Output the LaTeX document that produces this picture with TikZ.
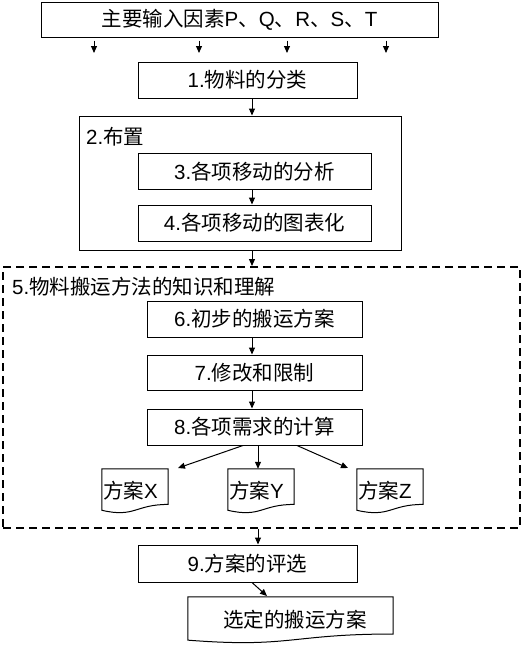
\documentclass[tikz,border=0pt]{standalone}
\usepackage{fontspec}
\setmainfont{Liberation Sans}
\newfontfamily\cjk{Noto Sans CJK SC}
\usetikzlibrary{arrows.meta,calc}
\begin{document}
\begin{tikzpicture}[x=1pt,y=-1pt]
\tikzstyle{every node}+=[inner sep=0pt,font=\fontsize{20.5}{24}\selectfont]
\tikzstyle{box}=[draw,line width=1pt,minimum height=36pt]
\tikzstyle{doc}=[minimum width=66pt,minimum height=44pt]
\tikzstyle{arr}=[line width=1pt,-{Triangle[length=7pt,width=6pt]}]
\useasboundingbox (0,0) rectangle (522,648);
\node [box,minimum width=397pt,minimum height=35pt] (inp) at (239.5,19.5) {{\cjk 主要输入因素}P{\cjk 、}Q{\cjk 、}R{\cjk 、}S{\cjk 、}T};
\node [box,minimum width=219pt] (cls) at (247.5,80) {1.{\cjk 物料的分类}};
\node [box,minimum width=322pt,minimum height=134pt] (lay) at (240,183) {};
\node [anchor=west] (layl) at (86,137) {2.{\cjk 布置}};
\node [box,minimum width=233pt] (ana) at (254.5,171.5) {3.{\cjk 各项移动的分析}};
\node [box,minimum width=233pt] (chart) at (254.5,223) {4.{\cjk 各项移动的图表化}};
\node [draw,line width=2pt,dash pattern=on 8pt off 5pt,minimum width=517pt,minimum height=261pt] (know) at (261.5,397.5) {};
\node [anchor=west] (knowl) at (12,287) {5.{\cjk 物料搬运方法的知识和理解}};
\node [box,minimum width=215pt] (init) at (254.5,319) {6.{\cjk 初步的搬运方案}};
\node [box,minimum width=215pt,minimum height=35pt] (mod) at (254.5,372.5) {7.{\cjk 修改和限制}};
\node [box,minimum width=215pt] (calc) at (254.5,427) {8.{\cjk 各项需求的计算}};
\node [doc,text width=64pt,align=left] (px) at (135,491) {{\cjk 方案}X};
\node [doc,text width=64pt,align=left] (py) at (261,491) {{\cjk 方案}Y};
\node [doc,text width=64pt,align=left] (pz) at (390,491) {{\cjk 方案}Z};
\node [box,minimum width=219pt,minimum height=37pt] (eval) at (247.5,563.5) {9.{\cjk 方案的评选}};
\node [doc,minimum width=205pt,minimum height=46pt] (sel) at (290.5,620) {\hspace{9pt}{\cjk 选定的搬运方案}};
\foreach \d in {px,py,pz,sel}
  \draw [line width=1pt] let \p1=(\d.north west), \p2=(\d.south east) in
    (\x1,\y1) -- (\x2,\y1) -- (\x2,{\y1+0.802*(\y2-\y1)})
    .. controls ({0.5*(\x1+\x2)},{\y1+0.802*(\y2-\y1)}) and ({0.5*(\x1+\x2)},{\y1+1.108*(\y2-\y1)}) .. (\x1,{\y1+0.934*(\y2-\y1)}) -- cycle;
\coordinate (ax) at (252,0);
\coordinate (bx) at (258,0);
\foreach \x [count=\i] in {94,199,287,386} {
  \coordinate (t\i) at (\x,53);
  \draw [arr] ([yshift=-3pt]inp.south -| t\i) -- (t\i);
}
\draw [arr] (cls.south -| ax) -- (lay.north -| ax);
\draw [arr] (ana.south -| ax) -- (chart.north -| ax);
\draw [arr] (lay.south -| ax) -- (know.north -| ax);
\draw [arr] (init.south -| ax) -- (mod.north -| ax);
\draw [arr] (mod.south -| ax) -- (calc.north -| ax);
\coordinate (tx) at (178,468);
\coordinate (tz) at (348,468);
\coordinate (ts) at (267,596);
\draw [arr] ([xshift=-11.5pt]calc.south) -- (tx);
\draw [arr] (calc.south -| bx) -- (py.north -| bx);
\draw [arr] ([xshift=42.5pt]calc.south) -- (tz);
\draw [arr] (know.south -| bx) -- (eval.north -| bx);
\draw [arr] (eval.south -| ax) -- (ts);
\end{tikzpicture}
\end{document}
